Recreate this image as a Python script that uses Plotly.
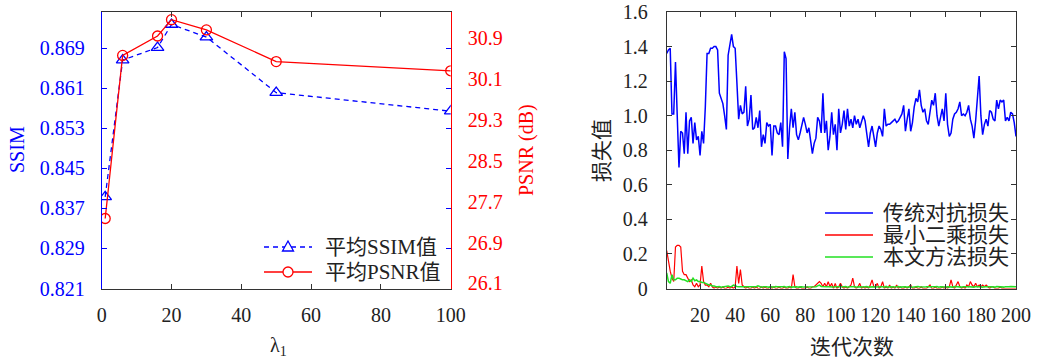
import plotly.graph_objects as go

# ---------------- data: left panel ----------------
lam = [1, 6, 16, 20, 30, 50, 100]
ssim = [0.8393, 0.8666, 0.8691, 0.8737, 0.8712, 0.8601, 0.8564]
psnr = [27.37, 30.56, 30.94, 31.26, 31.06, 30.44, 30.26]
ssim_ticks = [0.821, 0.829, 0.837, 0.845, 0.853, 0.861, 0.869]
psnr_ticks = [26.1, 26.9, 27.7, 28.5, 29.3, 30.1, 30.9]
lam_ticks = [0, 20, 40, 60, 80, 100]
left_names = ["平均SSIM值", "平均PSNR值"]

# ---------------- data: right panel ----------------
iters = list(range(1, 201))
loss_gan = [
    1.36, 1.38, 1.39, 1.01, 1.01, 1.31, 1.00, 0.70, 0.91, 0.90, 0.78, 1.02, 0.78, 0.97, 0.99, 0.84, 0.96, 0.86, 0.88, 0.77,
    0.91, 0.84, 1.05, 1.36, 1.36, 1.39, 1.39, 1.40, 1.40, 1.38, 1.13, 1.10, 1.07, 1.00, 0.92, 1.35, 1.40, 1.47, 1.40, 1.39,
    1.19, 0.98, 1.06, 1.01, 1.02, 1.17, 0.94, 0.98, 1.12, 0.92, 0.93, 0.99, 0.93, 1.03, 0.82, 0.89, 0.84, 0.96, 0.94, 0.95,
    0.77, 0.94, 0.94, 0.90, 0.89, 0.96, 0.82, 1.37, 1.33, 0.75, 0.93, 1.04, 0.93, 1.02, 0.89, 0.86, 0.90, 0.94, 0.99, 0.95,
    0.90, 0.93, 0.85, 0.78, 0.84, 0.87, 0.99, 0.97, 0.90, 1.13, 0.90, 0.97, 0.80, 0.88, 1.02, 0.89, 0.95, 0.80, 1.04, 0.90,
    0.95, 1.03, 0.92, 1.04, 0.94, 0.98, 0.93, 1.00, 0.95, 0.98, 0.93, 0.97, 1.00, 0.97, 0.90, 0.82, 0.90, 0.94, 0.88, 0.82,
    0.90, 0.94, 0.92, 0.88, 1.04, 0.94, 0.95, 0.95, 0.96, 0.97, 0.98, 0.96, 0.97, 0.99, 1.01, 1.06, 0.91, 0.98, 1.04, 0.91,
    0.96, 1.05, 1.10, 1.08, 1.15, 1.06, 1.02, 1.04, 0.97, 0.95, 1.03, 1.09, 1.06, 1.13, 1.00, 0.94, 0.99, 1.04, 0.97, 1.13,
    0.95, 0.88, 0.90, 0.98, 1.01, 1.02, 1.04, 1.08, 1.00, 1.01, 1.00, 1.02, 1.06, 0.98, 0.94, 0.87, 0.97, 1.10, 1.23, 1.00,
    0.89, 0.95, 0.98, 0.94, 1.03, 1.02, 0.98, 0.97, 1.09, 1.04, 1.09, 1.08, 1.09, 0.97, 0.99, 0.97, 1.02, 1.01, 0.96, 0.88,
]
loss_ls = [
    0.22, 0.15, 0.10, 0.06, 0.04, 0.24, 0.25, 0.25, 0.24, 0.10, 0.08, 0.08, 0.06, 0.04, 0.05, 0.02, 0.01, 0.03, 0.01, 0.02,
    0.13, 0.04, 0.02, 0.02, 0.01, 0.03, 0.01, 0.00, 0.01, 0.00, 0.01, 0.00, 0.01, 0.00, 0.00, 0.01, 0.00, 0.01, 0.00, 0.01,
    0.13, 0.03, 0.11, 0.02, 0.01, 0.00, 0.01, 0.00, 0.00, 0.01, 0.00, 0.01, 0.00, 0.00, 0.01, 0.00, 0.01, 0.00, 0.00, 0.01,
    0.00, 0.01, 0.00, 0.00, 0.01, 0.00, 0.00, 0.01, 0.00, 0.00, 0.01, 0.00, 0.08, 0.01, 0.00, 0.00, 0.01, 0.00, 0.00, 0.00,
    0.01, 0.00, 0.00, 0.01, 0.01, 0.02, 0.03, 0.04, 0.03, 0.01, 0.03, 0.01, 0.04, 0.01, 0.03, 0.00, 0.03, 0.00, 0.01, 0.03,
    0.01, 0.00, 0.01, 0.00, 0.01, 0.02, 0.06, 0.01, 0.00, 0.01, 0.03, 0.00, 0.01, 0.00, 0.01, 0.00, 0.02, 0.05, 0.01, 0.01,
    0.03, 0.00, 0.01, 0.04, 0.00, 0.01, 0.00, 0.02, 0.00, 0.01, 0.00, 0.02, 0.00, 0.01, 0.00, 0.00, 0.01, 0.00, 0.01, 0.02,
    0.00, 0.00, 0.01, 0.00, 0.00, 0.01, 0.00, 0.00, 0.00, 0.01, 0.02, 0.00, 0.00, 0.01, 0.00, 0.00, 0.00, 0.01, 0.00, 0.01,
    0.00, 0.01, 0.05, 0.01, 0.00, 0.02, 0.04, 0.01, 0.00, 0.01, 0.00, 0.02, 0.01, 0.04, 0.02, 0.01, 0.03, 0.01, 0.02, 0.01,
    0.02, 0.01, 0.02, 0.01, 0.00, 0.01, 0.01, 0.00, 0.00, 0.00, 0.01, 0.00, 0.00, 0.00, 0.00, 0.00, 0.00, 0.00, 0.00, 0.00,
]
loss_ours = [
    0.090, 0.040, 0.030, 0.080, 0.050, 0.050, 0.060, 0.060, 0.055, 0.050, 0.050, 0.045, 0.040, 0.050, 0.040, 0.060, 0.045, 0.050, 0.040, 0.040,
    0.035, 0.035, 0.030, 0.025, 0.020, 0.020, 0.015, 0.015, 0.010, 0.010, 0.012, 0.008, 0.010, 0.012, 0.010, 0.015, 0.010, 0.012, 0.020, 0.015,
    0.012, 0.010, 0.010, 0.012, 0.008, 0.010, 0.012, 0.010, 0.008, 0.010, 0.012, 0.010, 0.015, 0.010, 0.008, 0.010, 0.012, 0.010, 0.008, 0.010,
    0.010, 0.008, 0.012, 0.010, 0.008, 0.010, 0.010, 0.012, 0.008, 0.010, 0.012, 0.008, 0.010, 0.008, 0.010, 0.008, 0.010, 0.010, 0.008, 0.008,
    0.010, 0.008, 0.010, 0.008, 0.012, 0.010, 0.015, 0.020, 0.012, 0.010, 0.008, 0.010, 0.010, 0.008, 0.010, 0.008, 0.010, 0.008, 0.010, 0.010,
    0.008, 0.010, 0.012, 0.008, 0.010, 0.008, 0.010, 0.012, 0.008, 0.010, 0.008, 0.010, 0.008, 0.010, 0.012, 0.008, 0.010, 0.008, 0.010, 0.008,
    0.010, 0.008, 0.010, 0.010, 0.008, 0.012, 0.008, 0.010, 0.008, 0.010, 0.008, 0.010, 0.012, 0.008, 0.010, 0.008, 0.010, 0.008, 0.010, 0.010,
    0.008, 0.010, 0.008, 0.012, 0.010, 0.008, 0.010, 0.008, 0.010, 0.008, 0.010, 0.010, 0.008, 0.010, 0.012, 0.008, 0.010, 0.008, 0.010, 0.008,
    0.010, 0.008, 0.010, 0.008, 0.012, 0.010, 0.008, 0.010, 0.008, 0.010, 0.008, 0.010, 0.010, 0.008, 0.010, 0.008, 0.012, 0.010, 0.008, 0.010,
    0.008, 0.010, 0.008, 0.010, 0.010, 0.008, 0.010, 0.008, 0.012, 0.010, 0.008, 0.010, 0.008, 0.010, 0.008, 0.010, 0.012, 0.010, 0.008, 0.010,
]
right_names = ["传统对抗损失", "最小二乘损失", "本文方法损失"]
loss_ticks = [0, 0.2, 0.4, 0.6, 0.8, 1.0, 1.2, 1.4, 1.6]
loss_tick_text = ["0", "0.2", "0.4", "0.6", "0.8", "1.0", "1.2", "1.4", "1.6"]
iter_ticks = [20, 40, 60, 80, 100, 120, 140, 160, 180, 200]

# ---------------- styling ----------------
W, H = 1052, 360
SERIF = "Liberation Serif, Noto Sans CJK SC, serif"
CJK = "Liberation Serif, Noto Sans CJK SC, sans-serif"
BLUE = "#0000ff"
RED = "#ff0000"
GREEN = "#22e022"
AX = "#333333"
TXT = "#222222"
TICKFONT = dict(family=SERIF, size=20)

PLOT_TOP, PLOT_BOT = 12.0, 288.5
LX0, LX1 = 101.7, 450.7
RX0, RX1 = 666.7, 1016.0
ydom = [1 - PLOT_BOT / H, 1 - PLOT_TOP / H]


def X(px):
    return px / W


def Y(py):
    return 1 - py / H


fig = go.Figure()

fig.add_trace(go.Scatter(
    x=lam, y=ssim, name=left_names[0], mode="lines+markers", xaxis="x", yaxis="y",
    line=dict(color=BLUE, width=1.3, dash="5px,4px"),
    marker=dict(symbol="triangle-up-open", size=11, color=BLUE, line=dict(width=1.3)),
))
fig.add_trace(go.Scatter(
    x=lam, y=psnr, name=left_names[1], mode="lines+markers", xaxis="x", yaxis="y2",
    line=dict(color=RED, width=1.3),
    marker=dict(symbol="circle-open", size=10, color=RED, line=dict(width=1.3)),
))
fig.add_trace(go.Scatter(
    x=iters, y=loss_gan, name=right_names[0], mode="lines", xaxis="x2", yaxis="y3",
    line=dict(color=BLUE, width=1.5),
))
fig.add_trace(go.Scatter(
    x=iters, y=loss_ls, name=right_names[1], mode="lines", xaxis="x2", yaxis="y3",
    line=dict(color=RED, width=1.2),
))
fig.add_trace(go.Scatter(
    x=iters, y=loss_ours, name=right_names[2], mode="lines", xaxis="x2", yaxis="y3",
    line=dict(color=GREEN, width=1.5),
))

common_x = dict(showgrid=False, zeroline=False, showline=True, linecolor=AX, linewidth=1,
                mirror="ticks", ticks="inside", ticklen=5, tickcolor=AX, tickwidth=1,
                tickfont=dict(TICKFONT, color=TXT), automargin=False)

fig.update_layout(
    width=W, height=H, template="none",
    paper_bgcolor="white", plot_bgcolor="white",
    margin=dict(l=0, r=0, t=0, b=0),
    showlegend=False,
    xaxis=dict(common_x, domain=[X(LX0), X(LX1)], anchor="y", range=[0, 100],
               tickvals=lam_ticks, ticklabelstandoff=8),
    yaxis=dict(domain=ydom, anchor="x", range=[0.821, 0.8762], tickvals=ssim_ticks,
               tickformat=".3f", showgrid=False, zeroline=False, showline=True,
               linecolor=BLUE, linewidth=1, ticks="inside", ticklen=5, tickcolor=BLUE,
               mirror="ticks", tickfont=dict(TICKFONT, color=BLUE), ticklabelstandoff=12,
               automargin=False),
    yaxis2=dict(overlaying="y", side="right", anchor="x", range=[26.0, 31.41],
                tickvals=psnr_ticks, tickformat=".1f", showgrid=False, zeroline=False,
                showline=True, linecolor=RED, linewidth=1, ticks="", ticklen=5,
                tickcolor=RED, tickfont=dict(TICKFONT, color=RED), ticklabelstandoff=12,
                automargin=False),
    xaxis2=dict(common_x, domain=[X(RX0), X(RX1)], anchor="y3", range=[1, 200],
                tickvals=iter_ticks, ticklabelstandoff=8),
    yaxis3=dict(common_x, domain=ydom, anchor="x2", range=[0, 1.6],
                tickvals=loss_ticks, ticktext=loss_tick_text, ticklabelstandoff=14),
)


def ann(text, px, py, color=TXT, angle=0, size=20, family=SERIF, xanchor="center"):
    fig.add_annotation(text=text, x=X(px), y=Y(py), xref="paper", yref="paper",
                       showarrow=False, textangle=angle, xanchor=xanchor, yanchor="middle",
                       font=dict(family=family, size=size, color=color))


def seg(x0, x1, py, color, width, dash="solid"):
    fig.add_shape(type="line", xref="paper", yref="paper", x0=X(x0), x1=X(x1), y0=Y(py), y1=Y(py),
                  line=dict(color=color, width=width, dash=dash))


# axis titles
ann("SSIM", 17, 150, color=BLUE, angle=-90)
ann("PSNR (dB)", 526, 150, color=RED, angle=-90)
ann("λ<sub>1</sub>", 278, 346)
ann("损失值", 602, 151, angle=-90, family=CJK, size=21)
ann("迭代次数", 852, 347, family=CJK, size=21)

# left legend (drawn compactly, as in the reference)
LL0, LL1, LT = 264, 312, 323
rows_l = [247, 272]
seg(LL0, LL1, rows_l[0], BLUE, 1.3, "5px,4px")
cx, cy = (LL0 + LL1) / 2, rows_l[0]
fig.add_shape(type="path", xref="paper", yref="paper",
              path=f"M{X(cx)},{Y(cy - 6)} L{X(cx - 5.5)},{Y(cy + 4)} L{X(cx + 5.5)},{Y(cy + 4)} Z",
              line=dict(color=BLUE, width=1.3), fillcolor="white")
seg(LL0, LL1, rows_l[1], RED, 1.3)
cy = rows_l[1]
fig.add_shape(type="circle", xref="paper", yref="paper",
              x0=X(cx - 5), x1=X(cx + 5), y0=Y(cy + 5), y1=Y(cy - 5),
              line=dict(color=RED, width=1.3), fillcolor="white")
for name, ry in zip(left_names, rows_l):
    ann(name, LT, ry, family=CJK, size=21, xanchor="left")

# right legend
RL0, RL1, RT = 825, 873, 881
rows_r = [213, 235, 257]
for name, ry, col in zip(right_names, rows_r, [BLUE, RED, GREEN]):
    seg(RL0, RL1, ry, col, 1.5)
    ann(name, RT, ry, family=CJK, size=21, xanchor="left")

fig.write_html("out.html", config={"displayModeBar": False},
               post_script="document.body.style.margin='0';document.body.style.padding='0';")
